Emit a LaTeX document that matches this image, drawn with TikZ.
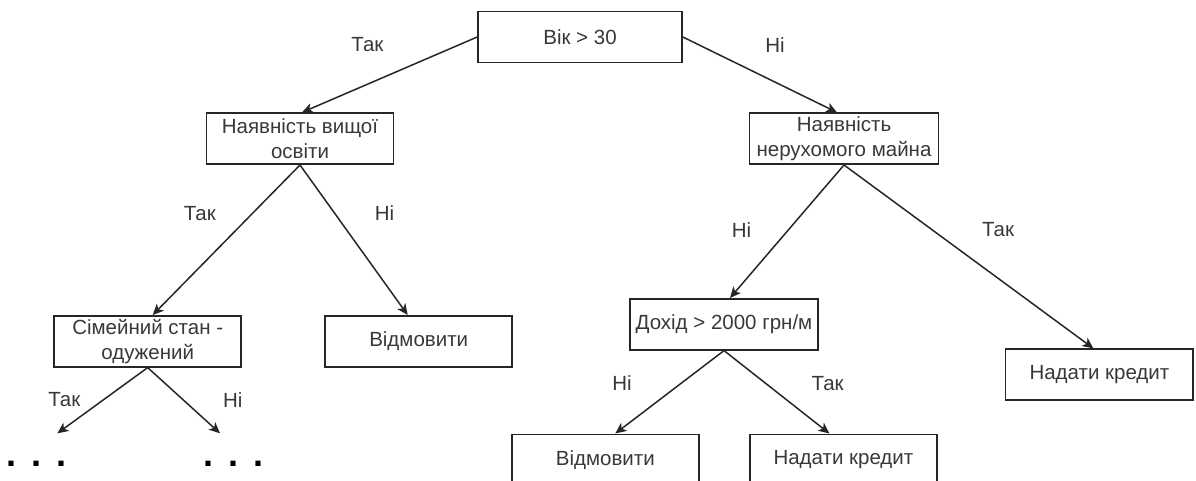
\documentclass[tikz,border=0pt]{standalone}
\usepackage{fontspec}
\setmainfont{Liberation Sans}
\usetikzlibrary{arrows.meta,calc}
\begin{document}
\begin{tikzpicture}[x=1pt,y=-1pt,
 box/.style={draw=black!85, line width=1.6pt, minimum width=#1, minimum height=51pt, align=center, font=\fontsize{20.5}{25}\selectfont, text=black!78, inner sep=0pt},
 box/.default=187pt,
 lbl/.style={font=\fontsize{20.5}{24}\selectfont, inner sep=0pt, text=black!78},
 dots/.style={font=\bfseries\fontsize{36}{36}\selectfont, inner sep=0pt, anchor=base, text=black},
 arr/.style={-{Stealth[length=11pt,width=10pt,inset=3pt]}, line width=1.5pt, draw=black!85}
]
\useasboundingbox (0,0) rectangle (1196,481);

\node[box=204pt] (root) at (580,37) {Вік > 30};
\node[box] (edu) at (300,138.7) {Наявність вищої\\освіти};
\node[box=189pt] (prop) at (844,138.7) {Наявність\\нерухомого майна};
\node[box] (fam) at (147.7,341.3) {Сімейний стан -\\одужений};
\node[box] (ref1) at (418.7,341.3) {Відмовити};
\node[box=188pt] (inc) at (724,324.3) {Дохід > 2000 грн/м};
\node[box=187.5pt] (give1) at (1099.4,374.7) {Надати кредит};
\node[box] (ref2) at (605.3,459.8) {Відмовити};
\node[box] (give2) at (843.4,459.8) {Надати кредит};

\coordinate (t1) at (57.4,433.3);
\coordinate (t2) at (220,433.3);
\node[dots] (d1) at (36.4,466) {.\hspace{15pt}.\hspace{15pt}.};
\node[dots] (d2) at (233.4,466) {.\hspace{15pt}.\hspace{15pt}.};

\draw[arr] (root.west) -- ($(edu.north)+(2,0)$);
\draw[arr] (root.east) -- ($(prop.north)+(-7,0)$);
\draw[arr] (edu.south) -- ($(fam.north)+(5,0)$);
\draw[arr] (edu.south) -- ($(ref1.north)+(-11,0)$);
\draw[arr] (prop.south) -- ($(inc.north)+(6,0)$);
\draw[arr] (prop.south) -- ($(give1.north)+(-6,0)$);
\draw[arr] (fam.south) -- (t1);
\draw[arr] (fam.south) -- (t2);
\draw[arr] (inc.south) -- ($(ref2.north)+(10,0)$);
\draw[arr] (inc.south) -- ($(give2.north)+(-14,0)$);

\node[lbl] (l1) at (367.4,45) {Так};
\node[lbl] (l2) at (775,45) {Ні};
\node[lbl] (l3) at (199.8,213.3) {Так};
\node[lbl] (l4) at (384.6,213.3) {Ні};
\node[lbl] (l5) at (741.6,230) {Ні};
\node[lbl] (l6) at (998,230) {Так};
\node[lbl] (l7) at (64.3,400) {Так};
\node[lbl] (l8) at (232.7,400) {Ні};
\node[lbl] (l9) at (622,383.3) {Ні};
\node[lbl] (l10) at (827.7,383.3) {Так};
\end{tikzpicture}
\end{document}
